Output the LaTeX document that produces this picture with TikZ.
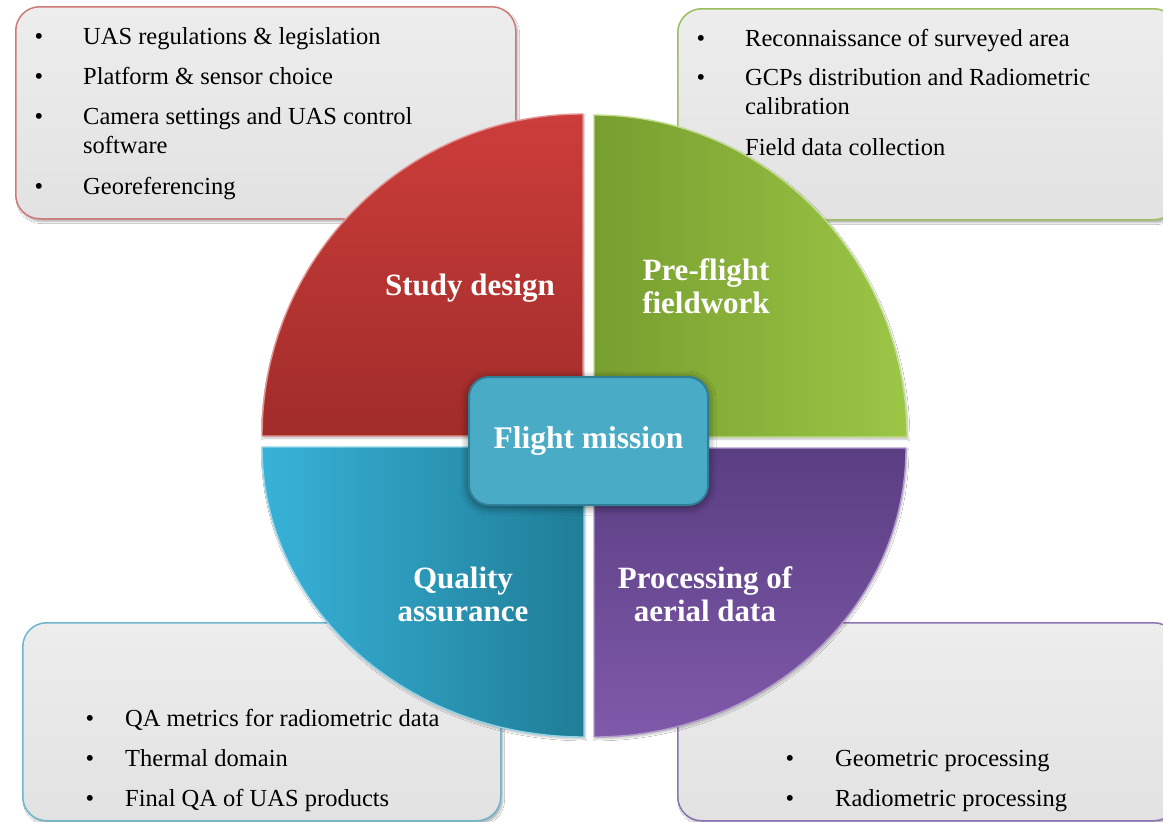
\documentclass[tikz,border=0pt]{standalone}
\usepackage{fontspec}
\setmainfont{Liberation Serif}
\usetikzlibrary{shadows,shadows.blur}
\definecolor{boxtop}{HTML}{EDEDED}
\definecolor{boxbot}{HTML}{E2E2E2}
\definecolor{bred}{HTML}{CF7A78}
\definecolor{bgreen}{HTML}{9DBE5C}
\definecolor{bteal}{HTML}{6DB6CC}
\definecolor{bpurple}{HTML}{8A74B2}
\definecolor{redT}{HTML}{CC3D3A}
\definecolor{redB}{HTML}{A02C2A}
\definecolor{greenL}{HTML}{779E2F}
\definecolor{greenR}{HTML}{9CC646}
\definecolor{cyanL}{HTML}{38B2D8}
\definecolor{cyanR}{HTML}{1F7D97}
\definecolor{purT}{HTML}{5A3E82}
\definecolor{purB}{HTML}{7F59AA}
\definecolor{midfill}{HTML}{4AABC7}
\definecolor{midline}{HTML}{2F7F98}
\begin{document}
\begin{tikzpicture}[x=1pt,y=-1pt,
  infobox/.style={draw=#1, line width=1.5pt, rounded corners=24pt, top color=boxtop, bottom color=boxbot,
    anchor=north west, inner sep=0pt, blur shadow={shadow blur steps=6, shadow opacity=30, shadow xshift=2pt, shadow yshift=-3pt}},
  item/.style={anchor=base west, inner sep=0pt, font=\fontsize{24.5}{29}\selectfont},
  dot/.style={anchor=base, inner sep=0pt, font=\fontsize{24.5}{29}\selectfont},
  qlabel/.style={text=white, inner sep=0pt, align=center, font=\fontsize{31}{33}\selectfont\bfseries},
  quad/.style={line width=1.4pt, blur shadow={shadow blur steps=6, shadow opacity=25, shadow xshift=1pt, shadow yshift=-2pt}}
]
\clip (0,0) rectangle (1163,822);
\fill[white] (0,0) rectangle (1163,822);

% info boxes
\node[infobox=bred, minimum width=500pt, minimum height=212pt] (boxTL) at (15,6) {};
\node[infobox=bgreen, minimum width=500pt, minimum height=211pt] (boxTR) at (677,8) {};
\node[infobox=bteal, minimum width=478pt, minimum height=198pt] (boxBL) at (22,622) {};
\node[infobox=bpurple, minimum width=500pt, minimum height=198pt] (boxBR) at (677,622) {};

% top-left list
\node[dot] (tlb1) at (39,44) {•};
\node[item] (tl1) at (83,44) {UAS regulations \& legislation};
\node[dot] (tlb2) at (39,84) {•};
\node[item] (tl2) at (83,84) {Platform \& sensor choice};
\node[dot] (tlb3) at (39,124) {•};
\node[item] (tl3) at (83,124) {Camera settings and UAS control};
\node[item] (tl3b) at (83,153) {software};
\node[dot] (tlb4) at (39,194) {•};
\node[item] (tl4) at (83,194) {Georeferencing};

% top-right list
\node[dot] (trb1) at (701,46) {•};
\node[item] (tr1) at (745,46) {Reconnaissance of surveyed area};
\node[dot] (trb2) at (701,85) {•};
\node[item] (tr2) at (745,85) {GCPs distribution and Radiometric};
\node[item] (tr2b) at (745,114) {calibration};
\node[item] (tr3) at (745,155) {Field data collection};

% bottom-left list
\node[dot] (blb1) at (90,726) {•};
\node[item] (bl1) at (125,726) {QA metrics for radiometric data};
\node[dot] (blb2) at (90,766) {•};
\node[item] (bl2) at (125,766) {Thermal domain};
\node[dot] (blb3) at (90,806) {•};
\node[item] (bl3) at (125,806) {Final QA of UAS products};

% bottom-right list
\node[dot] (brb1) at (790,766) {•};
\node[item] (br1) at (835,766) {Geometric processing};
\node[dot] (brb2) at (790,806) {•};
\node[item] (br2) at (835,806) {Radiometric processing};

% quadrants
\path[quad, draw=redT!55!white, top color=redT, bottom color=redB] (583,436) -- (583,114)
  arc[start angle=90, end angle=180, x radius=321pt, y radius=322pt] -- cycle;
\path[quad, draw=greenR!60!white, left color=greenL, right color=greenR] (594,437) -- (594,115)
  arc[start angle=90, end angle=0, x radius=313pt, y radius=322pt] -- cycle;
\path[quad, draw=cyanL!55!white, left color=cyanL, right color=cyanR] (584,447) -- (262,447)
  arc[start angle=180, end angle=270, x radius=322pt, y radius=290pt] -- cycle;
\path[quad, draw=purB!60!white, top color=purT, bottom color=purB] (594,448) -- (906,448)
  arc[start angle=0, end angle=-90, x radius=312pt, y radius=289pt] -- cycle;

% quadrant labels
\node[qlabel] (sd) at (470,288) {Study design};
\node[qlabel] (pf) at (706,286) {Pre-flight\\fieldwork};
\node[qlabel] (qa) at (463,594) {Quality\\assurance};
\node[qlabel] (pa) at (705,594) {Processing of\\aerial data};

% centre box
\node[draw=midline, line width=2pt, fill=midfill, rounded corners=20pt,
  minimum width=239pt, minimum height=128pt, inner sep=0pt,
  blur shadow={shadow blur steps=8, shadow opacity=55, shadow xshift=0pt, shadow yshift=-2pt, shadow blur radius=8pt},
  text=white, font=\fontsize{31.5}{33}\selectfont\bfseries] (fm) at (588.5,441) {Flight mission};
\end{tikzpicture}
\end{document}
